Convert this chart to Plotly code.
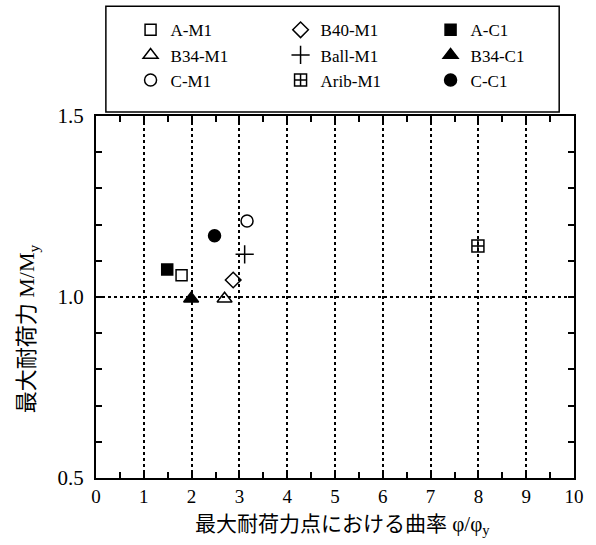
import plotly.graph_objects as go

names = ["A-M1", "B40-M1", "A-C1", "B34-M1", "Ball-M1", "B34-C1", "C-M1", "Arib-M1", "C-C1"]
x_vals = [1.79, 2.87, 1.49, 2.69, 3.11, 1.99, 3.16, 7.99, 2.48]
y_vals = [1.06, 1.047, 1.076, 0.995, 1.118, 0.995, 1.21, 1.141, 1.169]
symbols = ["square-open", "diamond-open", "square", "triangle-up-open", "cross-thin-open",
           "triangle-up", "circle-open", "square-cross-open", "circle"]
sizes = [11, 12, 11, 13, 13, 13, 12, 12, 12]

W, H = 596, 545
L, R, T, B = 96, 16, 115, 67
pw, ph = W - L - R, H - T - B

def px(x):
    return (x - L) / pw

def py(y):
    return (H - B - y) / ph

fig = go.Figure()
for n, xv, yv, s, sz in zip(names, x_vals, y_vals, symbols, sizes):
    fig.add_trace(go.Scatter(
        x=[xv], y=[yv], mode="markers", name=n,
        marker=dict(symbol=s, size=sz, color="black",
                    line=dict(color="black", width=1.5)),
    ))

serif = "Liberation Serif, Noto Sans CJK JP"
fig.update_layout(
    width=W, height=H,
    margin=dict(l=L, r=R, t=T, b=B),
    paper_bgcolor="white", plot_bgcolor="white",
    font=dict(family=serif, color="black"),
    showlegend=True,
    legend=dict(orientation="h", entrywidth=105, entrywidthmode="pixels",
                x=px(131), xanchor="left",
                y=py(11), yanchor="top", font=dict(size=17, family=serif),
                bgcolor="rgba(0,0,0,0)", borderwidth=0, tracegroupgap=0),
    xaxis=dict(range=[0, 10], dtick=1, tick0=0, showgrid=True,
               gridcolor="black", griddash="dot", gridwidth=1.5,
               showline=True, linecolor="black", linewidth=2, mirror="allticks",
               ticks="inside", ticklen=6, tickwidth=1.5, tickcolor="black",
               tickfont=dict(size=19, family=serif),
               minor=dict(dtick=0.5, ticks="inside", ticklen=6, tickwidth=1.5,
                          tickcolor="black", showgrid=False),
               zeroline=False),
    yaxis=dict(range=[0.5, 1.5], dtick=0.5, tick0=0.5, tickformat=".1f",
               showgrid=True, gridcolor="black", griddash="dot", gridwidth=1.5,
               showline=True, linecolor="black", linewidth=2, mirror="allticks",
               ticks="inside", ticklen=6, tickwidth=1.5, tickcolor="black",
               tickfont=dict(size=21, family=serif), ticklabelstandoff=6,
               minor=dict(dtick=0.1, ticks="inside", ticklen=6, tickwidth=1.5,
                          tickcolor="black", showgrid=False),
               zeroline=False),
    shapes=[dict(type="rect", xref="paper", yref="paper",
                 x0=px(106), x1=px(565), y0=py(111), y1=py(5),
                 line=dict(color="black", width=1.5))],
    annotations=[
        dict(text="最大耐荷力点における曲率 φ/φ<sub>y</sub>", xref="paper", yref="paper",
             x=px(346), y=py(525), xanchor="center", yanchor="middle",
             showarrow=False, font=dict(size=21, family=serif)),
        dict(text="最大耐荷力 M/M<sub>y</sub>", xref="paper", yref="paper",
             x=px(28), y=py(328), xanchor="center", yanchor="middle", textangle=-90,
             showarrow=False, font=dict(size=22, family=serif)),
    ],
)

fig.write_html("out.html")
